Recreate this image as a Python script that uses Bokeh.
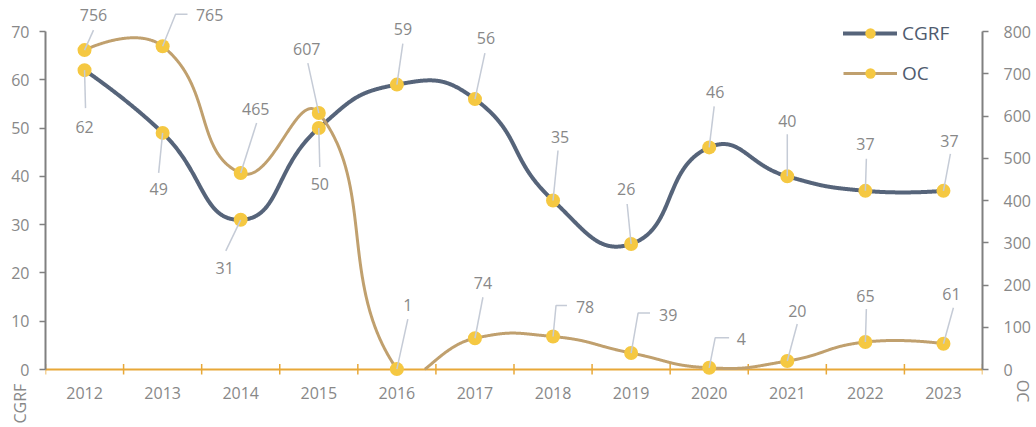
import numpy as np
from bokeh.plotting import figure
from bokeh.models import (Range1d, LinearAxis, FixedTicker, Span, Legend, LegendItem,
                          ColumnDataSource)
from bokeh.core.properties import value
from bokeh.embed import file_html
from bokeh.resources import INLINE

# ---------------- data ----------------
years = ["2012", "2013", "2014", "2015", "2016", "2017", "2018", "2019", "2020", "2021", "2022", "2023"]
cgrf = [62, 49, 31, 50, 59, 56, 35, 26, 46, 40, 37, 37]
oc = [756, 765, 465, 607, 1, 74, 78, 39, 4, 20, 65, 61]
left_ticks = [0, 10, 20, 30, 40, 50, 60, 70]
right_ticks = [0, 100, 200, 300, 400, 500, 600, 700, 800]

# ---------------- layout / style ----------------
FONT = "Open Sans"
W, H = 1036, 427
BL, BR, BB = 45, 49, 49
FRAME_W = W - BL - BR           # 942
SPAN_PX = 338                   # pixels from 0 to axis max
PAD_BOT, PAD_TOP = 9, 31
LMAX, RMAX = 70, 800
ppx = FRAME_W / len(years)
ppl = SPAN_PX / LMAX
ppr = SPAN_PX / RMAX
NBSP = "\u00a0"
PAD_L, PAD_R = 103, 97          # nbsp padding that moves the axis names below the zero line

C_CGRF = "#56647a"
C_OC = "#c0a06e"
C_PT = "#f5c842"
C_AXIS = "#808080"
C_X = "#e8a838"
C_TXT = "#888888"
C_LEAD = "#c5cbd6"

# label offsets (pixels, screen y down) and leader paths (pixel offsets from point)
cgrf_lab = [(0, 57), (-4, 56), (-16, 48), (1, 56), (6, -56), (11, -61), (7, -64),
            (-5, -55), (6, -55), (0, -55), (0, -47), (6, -50)]
cgrf_lead = [[(1, 38)], [(-4, 40)], [(-15, 31)], [(1, 39)], [(6, -41)], [(10, -46)],
             [(5, -50)], [(-4, -40)], [(5, -41)], [(0, -42)], [(1, -32)], [(7, -37)]]
oc_lab = [(9, -35), (47, -31), (15, -64), (-12, -64), (11, -64), (8, -55), (32, -30),
          (37, -38), (32, -29), (10, -50), (0, -46), (8, -50)]
oc_lead = [[(9, -20)], [(13, -32), (25, -32)], [(16, -50)], [(-11, -50)], [(11, -50)],
           [(8, -41)], [(3, -31), (14, -31)], [(7, -40), (19, -40)], [(6, -30), (20, -30)],
           [(10, -37)], [(1, -33)], [(10, -36)]]

xs = list(range(len(years)))


def smooth_curve(xd, yd, sx, sy, smooth=0.5, n=160):
    P = np.column_stack([np.asarray(xd, float) * sx, np.asarray(yd, float) * sy])
    m = len(P)
    cps = [P[0]]
    for i in range(1, m - 1):
        v = (P[i + 1] - P[i - 1]) * smooth
        d0 = np.linalg.norm(P[i] - P[i - 1])
        d1 = np.linalg.norm(P[i + 1] - P[i])
        s = d0 + d1
        cps.append(P[i] - v * d0 / s)
        cps.append(P[i] + v * d1 / s)
    cps.append(P[-1])
    t = np.linspace(0, 1, n)[:, None]
    segs = []
    for i in range(m - 1):
        p0, c0, c1, p1 = P[i], cps[2 * i], cps[2 * i + 1], P[i + 1]
        b = (1 - t) ** 3 * p0 + 3 * (1 - t) ** 2 * t * c0 + 3 * (1 - t) * t ** 2 * c1 + t ** 3 * p1
        segs.append(b if i == 0 else b[1:])
    B = np.vstack(segs)
    return B[:, 0] / sx, B[:, 1] / sy


p = figure(width=W, height=H, output_backend="svg", toolbar_location=None,
           x_range=Range1d(-0.5, len(years) - 0.5),
           y_range=Range1d(-PAD_BOT / ppl, LMAX + PAD_TOP / ppl),
           min_border_left=BL, min_border_right=BR, min_border_top=0, min_border_bottom=BB,
           x_axis_location=None, y_axis_location=None, outline_line_color=None,
           background_fill_color="white", border_fill_color="white")
p.extra_y_ranges = {"oc": Range1d(-PAD_BOT / ppr, RMAX + PAD_TOP / ppr)}
p.xgrid.visible = False
p.ygrid.visible = False

# axes
yl = LinearAxis(ticker=FixedTicker(ticks=left_ticks), bounds=(0, LMAX),
                axis_line_color=C_AXIS, axis_line_width=2,
                major_tick_in=0, major_tick_out=6, major_tick_line_color=C_AXIS,
                major_tick_line_width=1.5, minor_tick_line_color=None,
                major_label_text_font=FONT, major_label_text_font_size="16px",
                major_label_text_color=C_TXT, major_label_standoff=10)
p.add_layout(yl, "left")
yr = LinearAxis(y_range_name="oc", ticker=FixedTicker(ticks=right_ticks), bounds=(0, RMAX),
                axis_line_color=C_AXIS, axis_line_width=2,
                major_tick_in=0, major_tick_out=6, major_tick_line_color=C_AXIS,
                major_tick_line_width=1.5, minor_tick_line_color=None,
                major_label_text_font=FONT, major_label_text_font_size="16px",
                major_label_text_color=C_TXT, major_label_standoff=15)
p.add_layout(yr, "right")
xa = LinearAxis(ticker=FixedTicker(ticks=xs), major_label_overrides={i: y for i, y in zip(xs, years)},
                axis_line_color=None, major_tick_line_color=None, minor_tick_line_color=None,
                major_tick_in=0, major_tick_out=0,
                major_label_text_font=FONT, major_label_text_font_size="16px",
                major_label_text_color=C_TXT, major_label_standoff=8)
p.add_layout(xa, "below")


# axis names: label-only axes
def name_axis(text, standoff, range_name=None):
    ax = LinearAxis(ticker=FixedTicker(ticks=[]),
                    axis_line_color=None, major_tick_line_color=None, minor_tick_line_color=None,
                    major_tick_in=0, major_tick_out=0, major_label_text_font_size="0px",
                    axis_label=text, axis_label_standoff=standoff,
                    axis_label_text_font=FONT, axis_label_text_font_size="16px",
                    axis_label_text_font_style="normal", axis_label_text_color=C_TXT)
    if range_name:
        ax.y_range_name = range_name
    return ax

p.add_layout(name_axis("CGRF" + NBSP * PAD_L, -22), "left")
p.add_layout(name_axis(NBSP * PAD_R + "OC", -22, "oc"), "right")

# x axis line at zero and band-boundary ticks
p.add_layout(Span(location=0, dimension="width", line_color=C_X, line_width=2, level="underlay"))
bounds_x = [k - 0.5 for k in range(len(years) + 1)]
p.segment(x0=bounds_x, x1=bounds_x, y0=[-5 / ppl] * len(bounds_x), y1=[5.5 / ppl] * len(bounds_x),
          line_color=C_X, line_width=1.5, level="underlay")

# series
cx, cy = smooth_curve(xs, cgrf, ppx, ppl)
lc = p.line(cx, cy, line_color=C_CGRF, line_width=4, line_cap="round", line_join="round")
sc = p.scatter(xs, cgrf, size=14, fill_color=C_PT, line_color=None)

ox, oy = smooth_curve(xs, oc, ppx, ppr)
oy = np.where(oy < 0, np.nan, oy)
lo = p.line(ox, oy, line_color=C_OC, line_width=3, line_join="round", y_range_name="oc")
so = p.scatter(xs, oc, size=14, fill_color=C_PT, line_color=None, y_range_name="oc")

# leaders
def leader_paths(vals, leads, ppy):
    mx, my = [], []
    for x, v, pts in zip(xs, vals, leads):
        lx, ly = [x], [v]
        for dx, dy in pts:
            lx.append(x + dx / ppx)
            ly.append(v - dy / ppy)
        mx.append(lx)
        my.append(ly)
    return mx, my

mx, my = leader_paths(cgrf, cgrf_lead, ppl)
p.multi_line(mx, my, line_color=C_LEAD, line_width=1.5)
mx, my = leader_paths(oc, oc_lead, ppr)
p.multi_line(mx, my, line_color=C_LEAD, line_width=1.5, y_range_name="oc")

# data labels
src_c = ColumnDataSource(dict(x=xs, y=cgrf, t=[str(v) for v in cgrf],
                              dx=[d[0] for d in cgrf_lab], dy=[d[1] for d in cgrf_lab]))
p.text(x="x", y="y", text="t", x_offset="dx", y_offset="dy", source=src_c,
       text_align="center", text_baseline="middle", text_font=value(FONT),
       text_font_size="16px", text_color=C_TXT)
src_o = ColumnDataSource(dict(x=xs, y=oc, t=[str(v) for v in oc],
                              dx=[d[0] for d in oc_lab], dy=[d[1] for d in oc_lab]))
p.text(x="x", y="y", text="t", x_offset="dx", y_offset="dy", source=src_o, y_range_name="oc",
       text_align="center", text_baseline="middle", text_font=value(FONT),
       text_font_size="16px", text_color=C_TXT)

# legend
legend = Legend(items=[LegendItem(label="CGRF", renderers=[lc, sc]),
                       LegendItem(label="OC", renderers=[lo, so])],
                location=(798, 292), orientation="vertical",
                glyph_width=54, glyph_height=26, label_height=26, spacing=14,
                padding=0, margin=0, label_standoff=5,
                label_text_font=FONT, label_text_font_size="19px", label_text_color="#4f5b6e",
                background_fill_alpha=0, border_line_color=None)
p.add_layout(legend)

open("out.html", "w").write(file_html(p, INLINE))
